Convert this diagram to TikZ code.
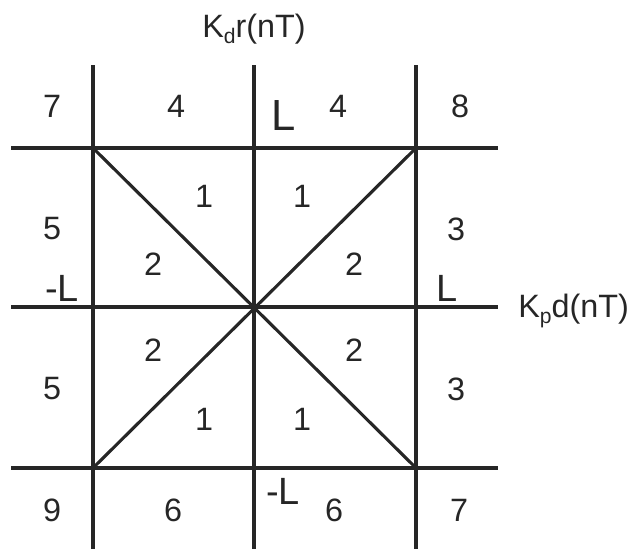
\documentclass[tikz,border=0pt]{standalone}
\usepackage{fontspec}
\setmainfont{Liberation Sans}
\usepackage{tikz}
\usetikzlibrary{positioning,calc}
\newcommand{\lowsub}[1]{\raisebox{-4.5pt}{\fontsize{15}{15}\selectfont #1}}
\tikzset{
gridline/.style={
line width=2.2pt,
draw=black!85
},
cell/.style={
inner sep=0pt,
text=black!85,
font=\fontsize{23}{28}\selectfont
},
bound/.style={
inner sep=0pt,
text=black!85,
font=\fontsize{27}{32}\selectfont
},
axislabel/.style={
inner sep=0pt,
text=black!85,
font=\fontsize{23}{28}\selectfont
}
}

\begin{document}
\begin{tikzpicture}[x=0.025cm,y=-0.025cm]
\useasboundingbox (0,0) rectangle (638,549);
% corners of the square and origin
\coordinate (o) at (254,307);
\coordinate (tl) at (93,148);
\coordinate (tr) at (416,148);
\coordinate (bl) at (93,468);
\coordinate (br) at (416,468);
% ends of the grid lines
\coordinate (v1t) at (93,65);
\coordinate (v1b) at (93,549);
\coordinate (v2t) at (254,65);
\coordinate (v2b) at (254,549);
\coordinate (v3t) at (416,65);
\coordinate (v3b) at (416,549);
\coordinate (h1l) at (11,148);
\coordinate (h1r) at (498,148);
\coordinate (h2l) at (11,307);
\coordinate (h2r) at (498,307);
\coordinate (h3l) at (11,468);
\coordinate (h3r) at (498,468);

\draw[gridline](v1t)--(v1b);
\draw[gridline](v2t)--(v2b);
\draw[gridline](v3t)--(v3b);
\draw[gridline](h1l)--(h1r);
\draw[gridline](h2l)--(h2r);
\draw[gridline](h3l)--(h3r);
\draw[gridline](tl)--(br);
\draw[gridline](tr)--(bl);

% axis labels
\node[axislabel,anchor=base west](ylab) at (202,37){K\lowsub{d}r(nT)};
\node[axislabel,anchor=base west](xlab) at (518,317){K\lowsub{p}d(nT)};

% top row
\node[cell](n7a) at (52,106){7};
\node[cell](n4a) at (176,106){4};
\node[bound,font=\fontsize{31}{36}\selectfont](lt) at (284,115){L};
\node[cell](n4b) at (338,106){4};
\node[cell](n8) at (460,106){8};
% upper middle
\node[cell](n5a) at (52,229){5};
\node[bound](mlt) at (62,288){-L};
\node[cell](n1a) at (204,196){1};
\node[cell](n1b) at (302,196){1};
\node[cell](n2a) at (153,264){2};
\node[cell](n2b) at (354,264){2};
\node[cell](n3a) at (456,229){3};
\node[bound](lr) at (447,288){L};
% lower middle
\node[cell](n2c) at (153,350){2};
\node[cell](n2d) at (354,350){2};
\node[cell](n5b) at (52,389){5};
\node[cell](n3b) at (456,389){3};
\node[cell](n1c) at (204,419){1};
\node[cell](n1d) at (302,419){1};
% bottom row
\node[cell](n9) at (52,510){9};
\node[cell](n6a) at (173,510){6};
\node[bound](mlb) at (283,491){-L};
\node[cell](n6b) at (334,510){6};
\node[cell](n7b) at (459,510){7};
\end{tikzpicture}
\end{document}
